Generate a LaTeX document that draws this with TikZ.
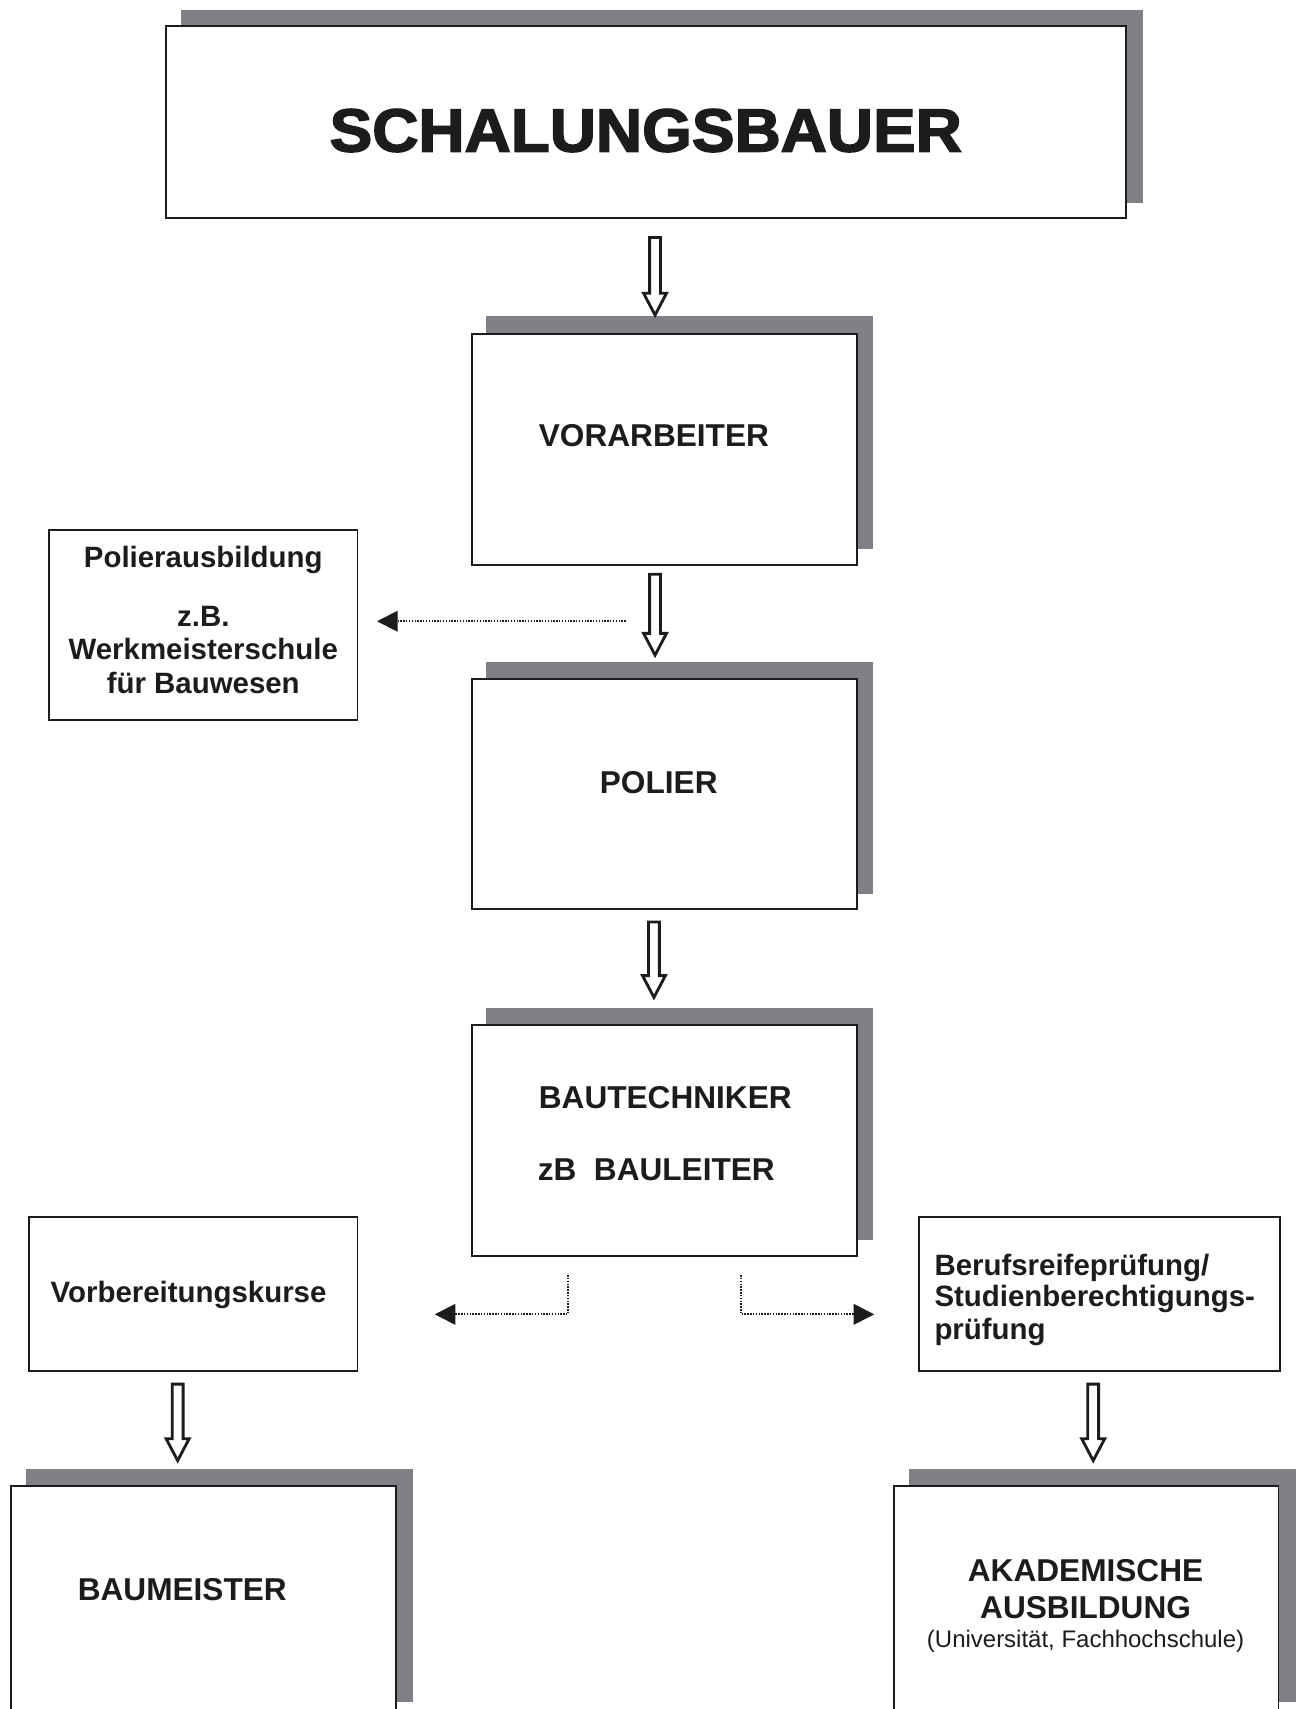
\documentclass[tikz,border=0pt]{standalone}
\usepackage{fontspec}
\setmainfont{Liberation Sans}
\newfontfamily\titlefont{Liberation Sans Bold}[FakeBold=2.5]
\usetikzlibrary{arrows.meta,calc}
\definecolor{shadowgray}{RGB}{128,129,134}
\definecolor{ink}{RGB}{30,27,28}
\newcommand\blockarrow[2]{%
  \draw[blockarr] ($(#1)+(-5,0)$) -- ($(#2)+(-5,-20)$) -- ($(#2)+(-10.5,-20)$) -- (#2)
    -- ($(#2)+(10.5,-20)$) -- ($(#2)+(5,-20)$) -- ($(#1)+(5,0)$) -- cycle;}
\newcommand\boxat[5]{%
  \node[boxstyle, minimum width={(#4-#2)*0.5pt}, minimum height={(#5-#3)*0.5pt}]
    (#1) at ({(#2+#4)/2},{(#3+#5)/2}) {};}
\begin{document}
\begin{tikzpicture}[x=0.5pt,y=-0.5pt,
  boxstyle/.style={draw=ink, line width=0.9pt, fill=white, rectangle, inner sep=0pt},
  big/.style={font=\fontsize{14.5}{17}\selectfont\bfseries, text=ink, inner sep=0pt},
  small/.style={font=\fontsize{13.5}{16}\selectfont\bfseries, text=ink, inner sep=0pt},
  note/.style={font=\fontsize{11}{13}\selectfont, text=ink, inner sep=0pt},
  blockarr/.style={draw=ink, line width=1.3pt, fill=white, line join=miter},
  dotarrow/.style={draw=ink, line width=0.9pt, dash pattern=on 0.65pt off 0.65pt,
    -{Triangle[length=9.5pt,width=9.5pt]}}
]
\clip (0,0) rectangle (1193,1568);
\fill[white] (0,0) rectangle (1193,1568);

% shadows
\fill[shadowgray] (166,9) rectangle (1049,186);
\fill[shadowgray] (446,290) rectangle (801,504);
\fill[shadowgray] (446,607) rectangle (801,820);
\fill[shadowgray] (446,925) rectangle (801,1138);
\fill[shadowgray] (24,1348) rectangle (379,1562);
\fill[shadowgray] (834,1348) rectangle (1189,1562);

% boxes
\boxat{title}{152}{24}{1033}{200}
\boxat{vor}{433}{306}{786}{518}
\boxat{pol}{433}{623}{786}{834}
\boxat{bt}{433}{940}{786}{1152}
\boxat{pa}{45}{486}{328}{661}
\boxat{vk}{27}{1117}{328}{1258}
\boxat{br}{843}{1117}{1174}{1258}
\boxat{bm}{10}{1363}{363}{1620}
\boxat{ak}{820}{1363}{1173}{1620}

% texts
\node[inner sep=0pt, anchor=base, text=ink] (ttl) at (592.5,139)
  {\resizebox{290pt}{19.5pt}{\titlefont SCHALUNGSBAUER}};
\node[big, anchor=base west] (tvor) at (494,410) {VORARBEITER};
\node[big, anchor=base west] (tpol) at (550,728) {POLIER};
\node[big, anchor=base west] (tbt) at (494,1017) {BAUTECHNIKER};
\node[big, anchor=base west] (tbl) at (493,1083) {zB\ \ BAULEITER};
\node[big, anchor=base west] (tbm) at (71,1468) {BAUMEISTER};
\node[big, anchor=base] (tak1) at (996,1451) {AKADEMISCHE};
\node[big, anchor=base] (tak2) at (996,1485) {AUSBILDUNG};
\node[note, anchor=base] (tak3) at (996,1512) {(Universität, Fachhochschule)};

\node[small, anchor=base] (tpa1) at (186.5,521) {Polierausbildung};
\node[small, anchor=base] (tpa2) at (186.5,574.5) {z.B.};
\node[small, anchor=base] (tpa3) at (186.5,605) {Werkmeisterschule};
\node[small, anchor=base] (tpa4) at (186.5,636) {für Bauwesen};
\node[small, anchor=base] (tvk) at (173,1195) {Vorbereitungskurse};
\node[small, anchor=base west] (tbr1) at (857,1170) {Berufsreifeprüfung/};
\node[small, anchor=base west] (tbr2) at (857,1199) {Studienberechtigungs-};
\node[small, anchor=base west] (tbr3) at (857,1229) {prüfung};

% block arrows
\coordinate (a1s) at ($(title.south)+(8.5,17)$);
\coordinate (a1e) at ($(vor.north)+(-8.5,-16)$);
\coordinate (a2s) at ($(vor.south)+(-8.5,8)$);
\coordinate (a2e) at ($(pol.north)+(-8.5,-21)$);
\coordinate (a3s) at ($(pol.south)+(-9.5,11)$);
\coordinate (a3e) at ($(bt.north)+(-9.5,-24)$);
\coordinate (a4s) at ($(vk.south)+(-14.5,11)$);
\coordinate (a4e) at ($(bm.north)+(-23.5,-22)$);
\coordinate (a5s) at ($(br.south)+(-5.5,11)$);
\coordinate (a5e) at ($(ak.north)+(6.5,-22)$);
\blockarrow{a1s}{a1e}
\blockarrow{a2s}{a2e}
\blockarrow{a3s}{a3e}
\blockarrow{a4s}{a4e}
\blockarrow{a5s}{a5e}

% dotted arrows
\coordinate (d1s) at (574,570);
\draw[dotarrow, shorten >=8.5pt] (d1s) -- (d1s -| pa.east);
\coordinate (d2s) at ($(bt.south)+(-88.5,17)$);
\coordinate (d2c) at ($(bt.south)+(-88.5,53)$);
\draw[dotarrow, shorten >=35pt] (d2s) -- (d2c) -- (d2c -| vk.east);
\coordinate (d3s) at ($(bt.south)+(70.5,17)$);
\coordinate (d3c) at ($(bt.south)+(70.5,53)$);
\draw[dotarrow, shorten >=20pt] (d3s) -- (d3c) -- (d3c -| br.west);
\end{tikzpicture}
\end{document}
